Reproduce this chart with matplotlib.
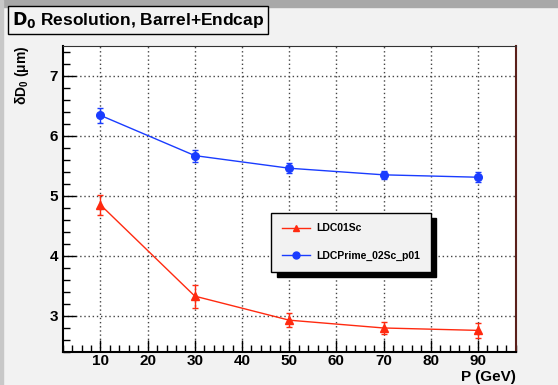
import matplotlib.pyplot as plt
import matplotlib.patches as mpatches
from matplotlib.ticker import MultipleLocator
from matplotlib.lines import Line2D

plt.rcParams['font.family'] = ['Liberation Sans', 'DejaVu Sans']
plt.rcParams['font.weight'] = 'bold'

p = [10, 30, 50, 70, 90]
ldc01 = [4.85, 3.33, 2.93, 2.80, 2.76]
ldc01_err = [0.17, 0.19, 0.12, 0.10, 0.13]
prime = [6.34, 5.67, 5.46, 5.35, 5.31]
prime_err = [0.12, 0.10, 0.08, 0.07, 0.08]

fig = plt.figure(figsize=(5.58, 3.85), dpi=100, facecolor='#f2f2f2')
# window-like grey bar on top and left strip
fig.patches.append(mpatches.Rectangle((0, 0.982), 1, 0.018, transform=fig.transFigure,
                                      color='#a8a8a8', zorder=0))
fig.patches.append(mpatches.Rectangle((0, 0), 0.006, 1, transform=fig.transFigure,
                                      color='#c8c8c8', zorder=0))

ax = fig.add_axes([0.1124, 0.0857, 0.8118, 0.7956])
ax.set_facecolor('white')

ax.errorbar(p, prime, yerr=prime_err, color='#1a3cff', marker='o', markersize=5.5,
            lw=1, capsize=2, elinewidth=1, label='LDCPrime_02Sc_p01', zorder=3)
ax.errorbar(p, ldc01, yerr=ldc01_err, color='#ff2a10', marker='^', markersize=5.5,
            lw=1, capsize=2, elinewidth=1, label='LDC01Sc', zorder=3)

ax.set_xlim(2, 98)
ax.set_ylim(2.4, 7.5)
ax.xaxis.set_minor_locator(MultipleLocator(2))
ax.yaxis.set_minor_locator(MultipleLocator(0.2))
ax.set_xticks([10, 20, 30, 40, 50, 60, 70, 80, 90])
ax.set_yticks([3, 4, 5, 6, 7])
ax.tick_params(axis='both', which='major', direction='in', length=9, width=1,
               labelsize=11, top=False, right=False)
ax.tick_params(axis='both', which='minor', direction='in', length=5, width=1,
               top=False, right=False)
ax.tick_params(axis='x', pad=1.5)
ax.grid(True, which='major', linestyle=(0, (1, 2)), color='#444444', lw=1)

for s in ['left', 'bottom']:
    ax.spines[s].set_linewidth(1.5)
ax.spines['right'].set_color('#5a1f1a')
ax.spines['right'].set_linewidth(1.5)
ax.spines['top'].set_color('#333333')

for lab in ax.get_xticklabels() + ax.get_yticklabels():
    lab.set_fontweight('bold')

fig.text(0.04, 0.882, r'$\mathregular{\delta D_0}$ (μm)', rotation=90, ha='center', va='top',
         fontsize=10, fontweight='bold')
fig.text(0.924, 0.002, 'P (GeV)', ha='right', va='bottom', fontsize=11, fontweight='bold')

# title box
fig.text(0.022, 0.948, r'$\mathbf{D_0}$ Resolution, Barrel+Endcap', ha='left', va='center',
         fontsize=12.5, fontweight='bold',
         bbox=dict(boxstyle='square,pad=0.22', facecolor='#f2f2f2', edgecolor='black', lw=1))

# legend
handles = [Line2D([], [], color='#ff2a10', marker='^', markersize=5, lw=1),
           Line2D([], [], color='#1a3cff', marker='o', markersize=5, lw=1)]
leg = ax.legend(handles, ['LDC01Sc', 'LDCPrime_02Sc_p01'], loc='upper left',
                bbox_to_anchor=(0.46, 0.454), borderaxespad=0, frameon=True, fancybox=False,
                shadow={'color': 'black', 'alpha': 1, 'ox': 4, 'oy': -4}, facecolor='#f2f2f2',
                edgecolor='black', framealpha=1, labelspacing=1.7, handlelength=2.7,
                handletextpad=0.65, borderpad=1.0, prop={'weight': 'bold', 'size': 7.5})
leg.get_frame().set_linewidth(1)
leg.set_zorder(5)

fig.savefig('out.png', dpi=100, facecolor=fig.get_facecolor())
